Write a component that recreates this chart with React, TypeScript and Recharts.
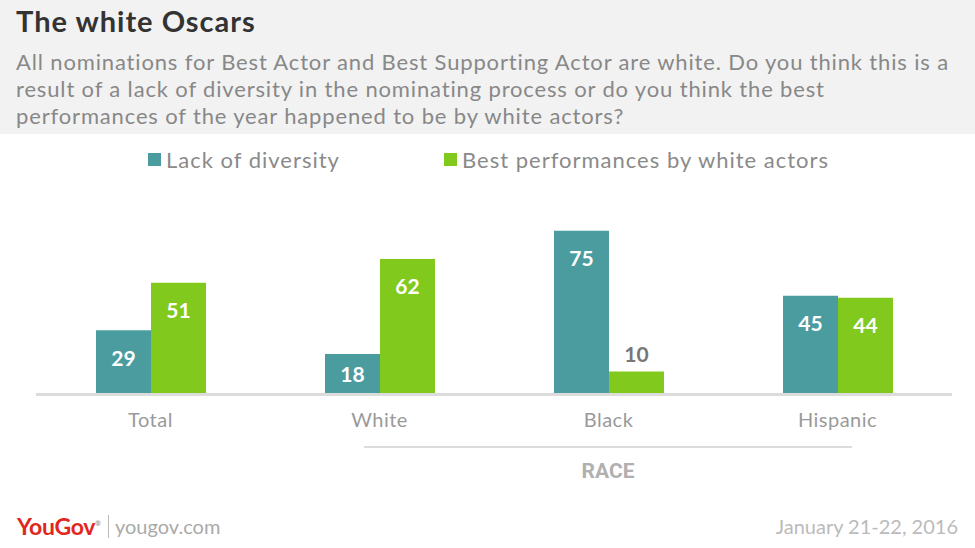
import { BarChart, Bar, XAxis, YAxis, Legend, LabelList } from 'recharts';

const categories = ['Total', 'White', 'Black', 'Hispanic'];
const lackOfDiversity = [29, 18, 75, 45];
const bestPerformances = [51, 62, 10, 44];
const seriesNames = ['Lack of diversity', 'Best performances by white actors'];
const subtitleLines = [
  'All nominations for Best Actor and Best Supporting Actor are white. Do you think this is a',
  'result of a lack of diversity in the nominating process or do you think the best',
  'performances of the year happened to be by white actors?',
];

const TEAL = '#4a9c9f';
const GREEN = '#82c91e';
const FONT = 'Lato, "Open Sans", sans-serif';

const data = categories.map((name, i) => ({
  name,
  lack: lackOfDiversity[i],
  best: bestPerformances[i],
}));

const ValueLabel = (props: any) => {
  const { x, y, width, height, value } = props;
  const inside = height > 30;
  return (
    <text
      x={x + width / 2}
      y={inside ? y + Math.min(27, height / 2) : y - 18}
      textAnchor="middle"
      dominantBaseline="central"
      fill={inside ? '#fff' : '#777'}
      fontFamily={FONT}
      fontWeight={700}
      fontSize={21}
    >
      {value}
    </text>
  );
};

const CategoryTick = (props: any) => {
  const { x, y, payload } = props;
  return (
    <text
      x={x}
      y={y + 18}
      textAnchor="middle"
      dominantBaseline="central"
      fill="#9a9a9a"
      fontFamily={FONT}
      fontSize={20}
      letterSpacing={0.5}
    >
      {payload.value}
    </text>
  );
};

const LegendContent = () => {
  const colors = [TEAL, GREEN];
  const lefts = [148, 444];
  return (
    <div style={{ position: 'relative', height: 30 }}>
      {seriesNames.map((n, i) => (
        <div
          key={n}
          style={{
            position: 'absolute',
            left: lefts[i],
            top: 0,
            display: 'flex',
            alignItems: 'center',
            whiteSpace: 'nowrap',
          }}
        >
          <span style={{ width: 13, height: 13, background: colors[i], display: 'inline-block', marginRight: 5 }} />
          <span style={{ fontFamily: FONT, fontSize: 22, color: '#8a8a8a', letterSpacing: 1 }}>{n}</span>
        </div>
      ))}
    </div>
  );
};

export default function App() {
  return (
    <div style={{ position: 'absolute', left: 0, top: 0, width: 975, height: 548, background: '#fff', overflow: 'hidden', fontFamily: FONT }}>
      <div style={{ position: 'absolute', left: 0, top: 0, width: 975, height: 134, background: '#f2f2f2' }} />
      <div style={{ position: 'absolute', left: 16, top: 3, fontSize: 29, fontWeight: 700, color: '#333', letterSpacing: 1 }}>
        The white Oscars
      </div>
      {subtitleLines.map((line, i) => (
        <div
          key={i}
          style={{ position: 'absolute', left: 16, top: 48 + i * 27, fontSize: 22, color: '#888', whiteSpace: 'nowrap', letterSpacing: 0.85 }}
        >
          {line}
        </div>
      ))}

      <div style={{ position: 'absolute', left: 0, top: 0 }}>
        <BarChart
          width={975}
          height={548}
          data={data}
          margin={{ top: 220, right: 23, bottom: 125, left: 36 }}
          barGap={0}
          barSize={55}
        >
          <XAxis
            dataKey="name"
            axisLine={{ stroke: '#dcdcdc', strokeWidth: 3, transform: 'translate(0,1.5)' }}
            tickLine={false}
            tick={<CategoryTick />}
            interval={0}
          />
          <YAxis hide domain={[0, 80]} />
          <Legend
            verticalAlign="middle"
            content={<LegendContent />}
            wrapperStyle={{ top: 146, left: 0, width: 975 }}
          />
          <Bar dataKey="lack" name={seriesNames[0]} fill={TEAL} isAnimationActive={false}>
            <LabelList dataKey="lack" content={<ValueLabel />} />
          </Bar>
          <Bar dataKey="best" name={seriesNames[1]} fill={GREEN} isAnimationActive={false}>
            <LabelList dataKey="best" content={<ValueLabel />} />
          </Bar>
        </BarChart>
      </div>

      <div style={{ position: 'absolute', left: 364, top: 446, width: 488, height: 2, background: '#dcdcdc' }} />
      <div
        style={{
          position: 'absolute',
          left: 364,
          width: 488,
          top: 459,
          textAlign: 'center',
          fontFamily: 'Roboto, sans-serif',
          fontWeight: 700,
          fontSize: 21,
          color: '#b0b0b0',
        }}
      >
        RACE
      </div>

      <div style={{ position: 'absolute', left: 17, top: 512, fontSize: 23, fontWeight: 700, color: '#e1261c', letterSpacing: -0.3 }}>
        YouGov<sup style={{ fontSize: 7, color: '#999' }}>®</sup>
      </div>
      <div style={{ position: 'absolute', left: 108, top: 515, width: 1, height: 23, background: '#bbb' }} />
      <div style={{ position: 'absolute', left: 115, top: 514, fontSize: 20, color: '#aaa' }}>yougov.com</div>
      <div style={{ position: 'absolute', right: 17, top: 514, fontSize: 20, color: '#bbb' }}>January 21-22, 2016</div>
    </div>
  );
}
